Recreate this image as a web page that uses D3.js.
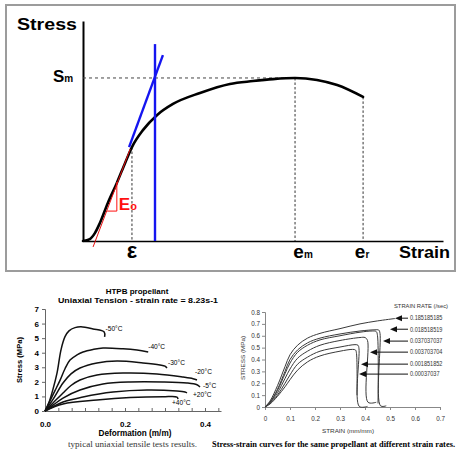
<!DOCTYPE html>
<html>
<head>
<meta charset="utf-8">
<script src="https://cdn.jsdelivr.net/npm/d3@7"></script>
<style>
  body { margin: 0; background: #fff; }
  svg { display: block; font-family: "Liberation Sans", Arial, sans-serif; }
</style>
</head>
<body>
<svg id="chart" width="457" height="449"></svg>
<script>
"use strict"

// ---------- top schematic (arbitrary units) ----------
const schemStrain = [0, 0.019, 0.033, 0.047, 0.069, 0.094, 0.117, 0.136, 0.167, 0.206, 0.25, 0.325, 0.408, 0.472, 0.528, 0.589, 0.65, 0.706, 0.778]
const schemStress = [0, 0.009, 0.036, 0.082, 0.173, 0.264, 0.355, 0.427, 0.505, 0.573, 0.623, 0.673, 0.714, 0.727, 0.736, 0.741, 0.732, 0.709, 0.655]
const markNames = ["ε", "e", "e"]
const markSubs = ["", "m", "r"]
const markStrain = [0.136, 0.589, 0.778]
const markStress = [0.427, 0.741, 0.655]
const stressMax = 0.741
const yieldStrain = 0.2
const yieldTop = 0.895
const tangentStrain = [0.128, 0.222]
const tangentStress = [0.427, 0.845]
const modulusStrain = [0.028, 0.131]
const modulusStress = [-0.027, 0.418]
const triStrain = [0.067, 0.094, 0.094]
const triStress = [0.136, 0.136, 0.268]

// ---------- bottom left: HTPB, temperatures ----------
const tempLabels = ["-50°C", "-40°C", "-30°C", "-20°C", "-5°C", "+20°C", "+40°C"]
const tempStrain = [
    [0, 0.01, 0.02, 0.03, 0.04, 0.05, 0.06, 0.075, 0.09, 0.12, 0.148, 0.149],
    [0, 0.0125, 0.025, 0.0375, 0.05, 0.0625, 0.08, 0.095, 0.12, 0.145, 0.195, 0.23, 0.258],
    [0, 0.02, 0.045, 0.065, 0.0875, 0.13, 0.18, 0.245, 0.2875, 0.3, 0.305],
    [0, 0.02, 0.045, 0.065, 0.0875, 0.13, 0.195, 0.28, 0.345, 0.37, 0.38],
    [0, 0.02, 0.045, 0.0875, 0.145, 0.2125, 0.295, 0.355, 0.38, 0.3875],
    [0, 0.045, 0.095, 0.17, 0.255, 0.33, 0.35, 0.355],
    [0, 0.045, 0.13, 0.2125, 0.295, 0.33, 0.3325]
]
const tempStress = [
    [0, 0.6, 1.5, 2.6, 4.2, 5.1, 5.5, 5.72, 5.78, 5.63, 5.42, 5.08],
    [0, 0.7, 1.4, 2.1, 2.9, 3.5, 3.85, 4.05, 4.22, 4.32, 4.27, 4.18, 4.05],
    [0, 0.8, 1.92, 2.55, 2.95, 3.3, 3.43, 3.3, 3.16, 3.08, 2.95],
    [0, 0.55, 1.24, 1.75, 2.13, 2.47, 2.6, 2.54, 2.33, 2.22, 2.13],
    [0, 0.4, 0.89, 1.44, 1.85, 1.99, 1.99, 1.92, 1.8, 1.65],
    [0, 0.62, 0.96, 1.3, 1.44, 1.37, 1.3, 1.24],
    [0, 0.48, 0.75, 0.92, 0.98, 0.96, 0.82]
]
const tempYTicks = [0, 1, 2, 3, 4, 5, 6, 7]
const tempXTicks = [0, 0.2, 0.4]

// ---------- bottom right: strain rates ----------
const rateLabels = ["0.185185185", "0.018518519", "0.037037037", "0.003703704", "0.001851852", "0.00037037"]
const rateStrain = [
    [0, 0.02, 0.05, 0.08, 0.1, 0.13, 0.17, 0.22, 0.3, 0.38, 0.45, 0.52],
    [0, 0.02, 0.05, 0.08, 0.1, 0.13, 0.17, 0.22, 0.3, 0.38, 0.44, 0.455, 0.46, 0.462, 0.485],
    [0, 0.02, 0.05, 0.08, 0.1, 0.13, 0.17, 0.22, 0.3, 0.38, 0.43, 0.445, 0.45, 0.452],
    [0, 0.02, 0.05, 0.08, 0.1, 0.13, 0.17, 0.22, 0.3, 0.38, 0.4, 0.41, 0.412, 0.445],
    [0, 0.02, 0.05, 0.08, 0.1, 0.13, 0.17, 0.22, 0.3, 0.36, 0.372, 0.376, 0.377, 0.41],
    [0, 0.02, 0.05, 0.08, 0.1, 0.13, 0.17, 0.22, 0.3, 0.35, 0.362, 0.366, 0.368]
]
const rateStress = [
    [0, 0.05, 0.18, 0.34, 0.44, 0.52, 0.58, 0.62, 0.66, 0.7, 0.725, 0.745],
    [0, 0.04, 0.15, 0.3, 0.4, 0.48, 0.54, 0.58, 0.615, 0.64, 0.65, 0.648, 0.62, 0.01, 0.01],
    [0, 0.04, 0.14, 0.28, 0.37, 0.46, 0.52, 0.565, 0.6, 0.63, 0.64, 0.635, 0.6, 0.03],
    [0, 0.035, 0.12, 0.24, 0.32, 0.41, 0.47, 0.52, 0.56, 0.585, 0.585, 0.56, 0.04, 0.04],
    [0, 0.03, 0.1, 0.2, 0.27, 0.36, 0.42, 0.47, 0.505, 0.525, 0.52, 0.49, 0.005, 0.005],
    [0, 0.025, 0.09, 0.17, 0.23, 0.31, 0.38, 0.43, 0.47, 0.485, 0.48, 0.45, 0.1]
]
const arrowTipStrain = [0.52, 0.5, 0.472, 0.42, 0.384, 0.376]
const arrowStress = [0.748, 0.655, 0.555, 0.462, 0.361, 0.277]
const rateYTicks = [0, 0.1, 0.2, 0.3, 0.4, 0.5, 0.6, 0.7, 0.8]
const rateXTicks = [0, 0.1, 0.2, 0.3, 0.4, 0.5, 0.6, 0.7]


const svg = d3.select("#chart")
const zip = (xs, ys) => xs.map((x, i) => [x, ys[i]])


// ================= top schematic =================
function DrawSchematic() {
    const x = d3.scaleLinear().domain([0, 1]).range([83, 443])
    const y = d3.scaleLinear().domain([0, 1]).range([241, 21])
    const g = svg.append("g")

    g.append("rect")
        .attr("x", 6).attr("y", 5).attr("width", 449).attr("height", 266)
        .attr("fill", "none").attr("stroke", "#9c9c9c").attr("stroke-width", 2)

    // axes (no ticks, just the lines)
    g.append("g").attr("transform", `translate(${x(0)},0)`)
        .call(d3.axisLeft(y).tickValues([]).tickSizeOuter(0))
        .call(a => a.select(".domain").attr("stroke", "#000").attr("stroke-width", 2))
    g.append("g").attr("transform", `translate(0,${y(0)})`)
        .call(d3.axisBottom(x).tickValues([]).tickSizeOuter(0))
        .call(a => a.select(".domain").attr("stroke", "#000").attr("stroke-width", 1.6))

    // guide lines
    g.append("line")
        .attr("x1", x(0)).attr("x2", x(markStrain[1]))
        .attr("y1", y(stressMax)).attr("y2", y(stressMax))
        .attr("stroke", "#444").attr("stroke-width", 1).attr("stroke-dasharray", "3,3")
    g.selectAll(".vguide").data(markStrain).join("line")
        .attr("class", "vguide")
        .attr("x1", d => x(d)).attr("x2", d => x(d))
        .attr("y1", (d, i) => y(markStress[i])).attr("y2", y(0))
        .attr("stroke", "#333").attr("stroke-width", 1).attr("stroke-dasharray", "2.5,2")

    const line = d3.line().x(d => x(d[0])).y(d => y(d[1]))
    const smooth = d3.line().x(d => x(d[0])).y(d => y(d[1])).curve(d3.curveMonotoneX)

    g.append("path").attr("d", smooth(zip(schemStrain, schemStress)))
        .attr("stroke", "#000").attr("stroke-width", 2.6).attr("fill", "none")
        .attr("stroke-linecap", "round")

    // red initial modulus + triangle
    g.append("path").attr("d", line(zip(modulusStrain, modulusStress)))
        .attr("stroke", "#e81010").attr("stroke-width", 1).attr("fill", "none")
    g.append("path").attr("d", line(zip(triStrain, triStress)))
        .attr("stroke", "#ff1010").attr("stroke-width", 1).attr("fill", "none")

    // blue lines
    g.append("line")
        .attr("x1", x(yieldStrain)).attr("x2", x(yieldStrain))
        .attr("y1", y(yieldTop)).attr("y2", y(0))
        .attr("stroke", "#1515f0").attr("stroke-width", 2.4)
    g.append("path").attr("d", line(zip(tangentStrain, tangentStress)))
        .attr("stroke", "#1515f0").attr("stroke-width", 2.4).attr("fill", "none")

    // labels
    g.append("text").attr("x", 17).attr("y", 30)
        .attr("font-size", 17).attr("font-weight", "bold")
        .attr("textLength", 60).attr("lengthAdjust", "spacingAndGlyphs")
        .text("Stress")
    g.append("text").attr("x", 399).attr("y", 258)
        .attr("font-size", 17).attr("font-weight", "bold")
        .attr("textLength", 51).attr("lengthAdjust", "spacingAndGlyphs")
        .text("Strain")

    const sm = g.append("text").attr("x", 53).attr("y", y(stressMax) + 4.5).attr("font-weight", "bold")
    sm.append("tspan").attr("font-size", 17).text("S")
    sm.append("tspan").attr("font-size", 10).text("m")

    const markShift = [0, 8, -1]
    const markSize = [22, 19, 19]
    markNames.forEach((name, i) => {
        const t = g.append("text")
            .attr("x", x(markStrain[i]) + markShift[i]).attr("y", 258)
            .attr("text-anchor", "middle").attr("font-weight", "bold")
        t.append("tspan").attr("font-size", markSize[i]).text(name)
        if (markSubs[i]) t.append("tspan").attr("font-size", 10).text(markSubs[i])
    })

    const eo = g.append("text").attr("x", x(triStrain[2]) + 2).attr("y", 210)
        .attr("fill", "#ff1010").attr("font-weight", "bold")
    eo.append("tspan").attr("font-size", 17).text("E")
    eo.append("tspan").attr("font-size", 11).text("o")
}


// ================= bottom left =================
function DrawTemperatures() {
    const x = d3.scaleLinear().domain([0, 0.44]).range([45, 221])
    const y = d3.scaleLinear().domain([0, 7]).range([411, 309])
    const g = svg.append("g").attr("font-weight", "bold")

    g.append("text").attr("x", 137).attr("y", 294).attr("text-anchor", "middle")
        .attr("font-size", 8).text("HTPB propellant")
    g.append("text").attr("x", 138).attr("y", 303).attr("text-anchor", "middle")
        .attr("font-size", 7.4).attr("textLength", 160).attr("lengthAdjust", "spacingAndGlyphs")
        .text("Uniaxial Tension - strain rate = 8.23s-1")

    g.append("g").attr("transform", `translate(${x(0)},0)`)
        .call(d3.axisLeft(y).tickValues(tempYTicks).tickSize(3).tickFormat(d3.format("d")))
        .call(a => {
            a.select(".domain").attr("stroke", "#666")
            a.selectAll(".tick line").attr("stroke", "#666")
            a.selectAll("text").attr("font-size", 8).attr("font-weight", "bold").attr("font-family", null).attr("x", -6)
        })
    g.append("g").attr("transform", `translate(0,${y(0)})`)
        .call(d3.axisBottom(x).tickValues(d3.range(0, 0.445, 0.2 / 6)).tickSize(-3).tickSizeOuter(0).tickFormat(""))
        .call(a => {
            a.select(".domain").attr("stroke", "#666")
            a.selectAll(".tick line").attr("stroke", "#666")
        })
    g.append("g").attr("transform", `translate(0,${y(0)})`)
        .call(d3.axisBottom(x).tickValues(tempXTicks).tickSize(0).tickFormat(d3.format(".1f")))
        .call(a => {
            a.select(".domain").remove()
            a.selectAll("text").attr("font-size", 8).attr("font-weight", "bold").attr("font-family", null).attr("dy", "1.6em")
        })

    g.append("text").attr("transform", "translate(22,360) rotate(-90)")
        .attr("text-anchor", "middle").attr("font-size", 7.6).text("Stress (MPa)")
    g.append("text").attr("x", 135).attr("y", 436).attr("text-anchor", "middle")
        .attr("font-size", 8.2).text("Deformation (m/m)")

    const line = d3.line().x(d => x(d[0])).y(d => y(d[1])).curve(d3.curveCatmullRom.alpha(0.5))
    const labelNudge = [[1, -8], [0, -5], [1, -5], [-2, -8], [3, -1], [6, 2], [-6, 4]]

    tempLabels.forEach((name, i) => {
        const pts = zip(tempStrain[i], tempStress[i])
        g.append("path").attr("d", line(pts))
            .attr("fill", "none").attr("stroke", "#111").attr("stroke-width", 1.5)
        const end = pts[pts.length - 1]
        g.append("text")
            .attr("x", x(end[0]) + labelNudge[i][0]).attr("y", y(end[1]) + labelNudge[i][1])
            .attr("dy", "0.35em").attr("font-size", 6.6).attr("font-weight", "normal")
            .text(name)
    })

    svg.append("text").attr("x", 68).attr("y", 447)
        .attr("font-family", "'Liberation Serif', serif").attr("font-size", 7.5).attr("fill", "#333")
        .attr("textLength", 129).attr("lengthAdjust", "spacingAndGlyphs")
        .text("typical uniaxial tensile tests results.")
}


// ================= bottom right =================
function DrawStrainRates() {
    const x = d3.scaleLinear().domain([0, 0.7]).range([265, 440])
    const y = d3.scaleLinear().domain([0, 0.8]).range([407, 312])
    const g = svg.append("g")
    const fmt = d => d === 0 ? "0" : d3.format(".1f")(d)

    g.append("g").attr("transform", `translate(${x(0)},0)`)
        .call(d3.axisLeft(y).tickValues(rateYTicks).tickSize(3).tickFormat(fmt))
        .call(a => {
            a.select(".domain").attr("stroke", "#888")
            a.selectAll(".tick line").attr("stroke", "#888")
            a.selectAll("text").attr("font-size", 6.3).attr("fill", "#333").attr("font-family", null).attr("x", -5)
        })
    g.append("g").attr("transform", `translate(0,${y(0)})`)
        .call(d3.axisBottom(x).tickValues(rateXTicks).tickSize(3).tickFormat(fmt))
        .call(a => {
            a.select(".domain").attr("stroke", "#888")
            a.selectAll(".tick line").attr("stroke", "#888")
            a.selectAll("text").attr("font-size", 6.3).attr("fill", "#333").attr("font-family", null).attr("dy", "1.3em")
        })

    g.append("text").attr("transform", "translate(245,358) rotate(-90)")
        .attr("text-anchor", "middle").attr("font-size", 6.2).attr("fill", "#333")
        .attr("textLength", 44).attr("lengthAdjust", "spacingAndGlyphs")
        .text("STRESS (MPa)")
    g.append("text").attr("x", 348).attr("y", 433).attr("text-anchor", "middle")
        .attr("font-size", 6.2).attr("fill", "#333")
        .attr("textLength", 52).attr("lengthAdjust", "spacingAndGlyphs")
        .text("STRAIN (mm/mm)")

    const line = d3.line().x(d => x(d[0])).y(d => y(d[1])).curve(d3.curveCatmullRom.alpha(0.5))
    rateLabels.forEach((name, i) => {
        g.append("path").attr("d", line(zip(rateStrain[i], rateStress[i])))
            .attr("fill", "none").attr("stroke", "#3a3a3a").attr("stroke-width", 1)
    })

    g.append("text").attr("x", 394).attr("y", 308)
        .attr("font-size", 6.2).attr("fill", "#333")
        .attr("textLength", 54).attr("lengthAdjust", "spacingAndGlyphs")
        .text("STRAIN RATE (/sec)")

    const labelX = 410
    rateLabels.forEach((name, i) => {
        const tipX = x(arrowTipStrain[i]), yy = y(arrowStress[i])
        g.append("line").attr("x1", tipX + 4).attr("x2", labelX - 2)
            .attr("y1", yy).attr("y2", yy).attr("stroke", "#111").attr("stroke-width", 1)
        g.append("path")
            .attr("d", `M${tipX},${yy}L${tipX + 7},${yy - 3}L${tipX + 7},${yy + 3}Z`)
            .attr("fill", "#111")
        g.append("text").attr("x", labelX).attr("y", yy).attr("dy", "0.35em")
            .attr("font-size", 6.6).attr("fill", "#333")
            .attr("textLength", name.length * 2.95).attr("lengthAdjust", "spacingAndGlyphs")
            .text(name)
    })

    svg.append("text").attr("x", 212).attr("y", 447)
        .attr("font-family", "'Liberation Serif', serif").attr("font-size", 8).attr("font-weight", "bold")
        .attr("textLength", 243).attr("lengthAdjust", "spacingAndGlyphs")
        .text("Stress-strain curves for the same propellant at different strain rates.")
}


DrawSchematic()
DrawTemperatures()
DrawStrainRates()
</script>
</body>
</html>
